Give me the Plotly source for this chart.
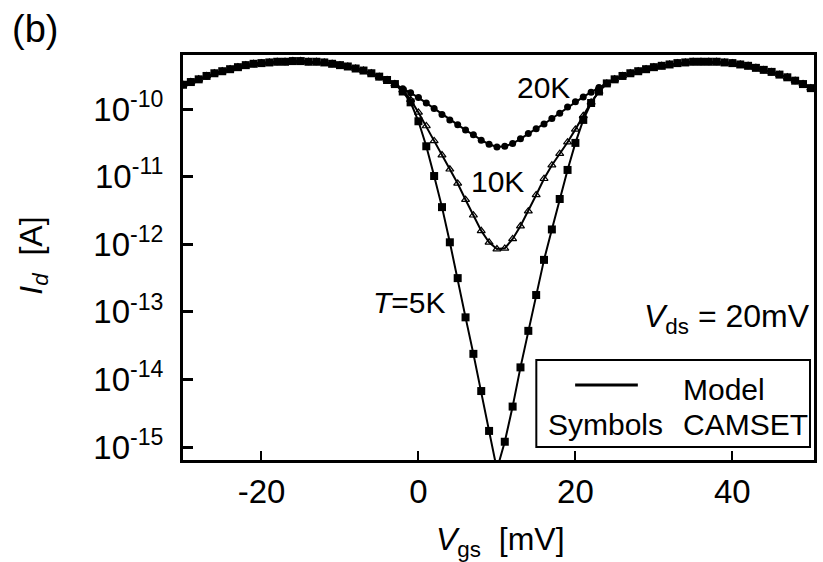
import plotly.graph_objects as go

# Gate voltage grid [mV]
vgs_mv = [-30, -29, -28, -27, -26, -25, -24, -23, -22, -21, -20, -19, -18, -17, -16,
          -15, -14, -13, -12, -11, -10, -9, -8, -7, -6, -5, -4, -3, -2, -1,
          0, 1, 2, 3, 4, 5, 6, 7, 8, 9, 10, 11, 12, 13, 14, 15, 16, 17, 18, 19,
          20, 21, 22, 23, 24, 25, 26, 27, 28, 29, 30, 31, 32, 33, 34, 35, 36, 37,
          38, 39, 40, 41, 42, 43, 44, 45, 46, 47, 48, 49, 50]

# log10(Id [A])
common_left = [-9.64, -9.60, -9.56, -9.51, -9.47, -9.44, -9.41, -9.38, -9.35, -9.33,
               -9.32, -9.31, -9.30, -9.30, -9.29, -9.29, -9.30, -9.30, -9.31, -9.33,
               -9.35, -9.37, -9.40, -9.43, -9.47, -9.52, -9.57, -9.63]          # -30..-3
common_right = [-9.62, -9.56, -9.51, -9.47, -9.44, -9.41, -9.38, -9.36, -9.34, -9.32,
                -9.31, -9.30, -9.30, -9.30, -9.30, -9.31, -9.32, -9.34, -9.36, -9.39,
                -9.42, -9.45, -9.49, -9.53, -9.58, -9.63, -9.69]                # 24..50

mid_20k = [-9.70, -9.76, -9.83, -9.91, -9.99, -10.08, -10.16, -10.23, -10.31, -10.38,
           -10.46, -10.52, -10.56, -10.55, -10.51, -10.44, -10.36, -10.29, -10.22,
           -10.14, -10.06, -9.97, -9.89, -9.82, -9.75, -9.68]                   # -2..23
mid_10k = [-9.72, -9.86, -10.05, -10.25, -10.47, -10.68, -10.89, -11.10, -11.34, -11.57,
           -11.80, -11.97, -12.07, -12.06, -11.92, -11.73, -11.51, -11.27, -11.03,
           -10.83, -10.66, -10.49, -10.30, -10.10, -9.90, -9.74]
mid_5k = [-9.74, -9.90, -10.18, -10.55, -10.99, -11.45, -11.97, -12.50, -13.08, -13.62,
          -14.17, -14.76, -15.33, -14.92, -14.40, -13.82, -13.28, -12.75, -12.23,
          -11.78, -11.33, -10.90, -10.50, -10.16, -9.91, -9.74]

log_id_20k = common_left + mid_20k + common_right
log_id_10k = common_left + mid_10k + common_right
log_id_5k = common_left + mid_5k + common_right

id_20k = [10 ** v for v in log_id_20k]
id_10k = [10 ** v for v in log_id_10k]
id_5k = [10 ** v for v in log_id_5k]

y_tick_vals = [1e-10, 1e-11, 1e-12, 1e-13, 1e-14, 1e-15]
y_tick_text = ["10<sup>-10</sup>", "10<sup>-11</sup>", "10<sup>-12</sup>",
               "10<sup>-13</sup>", "10<sup>-14</sup>", "10<sup>-15</sup>"]
x_tick_vals = [-20, 0, 20, 40]
x_tick_text = ["-20", "0", "20", "40"]

FONT = "Liberation Sans, Arial, sans-serif"
FS = 33

fig = go.Figure()
fig.add_trace(go.Scatter(x=vgs_mv, y=id_20k, mode="lines+markers",
                         line=dict(color="black", width=2),
                         marker=dict(symbol="circle", size=7, color="black")))
fig.add_trace(go.Scatter(x=vgs_mv, y=id_10k, mode="lines+markers",
                         line=dict(color="black", width=2),
                         marker=dict(symbol="triangle-up-open", size=7, color="black",
                                     line=dict(width=1.2, color="black"))))
fig.add_trace(go.Scatter(x=vgs_mv, y=id_5k, mode="lines+markers",
                         line=dict(color="black", width=2),
                         marker=dict(symbol="square", size=8, color="black")))

fig.update_xaxes(range=[-30, 50.4], tickvals=x_tick_vals, ticktext=x_tick_text,
                 ticks="inside", ticklen=9, tickwidth=2, tickcolor="black",
                 showline=True, linewidth=3, linecolor="black", mirror=True,
                 showgrid=False, zeroline=False,
                 tickfont=dict(family=FONT, size=FS, color="black"))
fig.update_yaxes(type="log", range=[-15.19, -9.2], tickvals=y_tick_vals,
                 ticktext=y_tick_text, ticks="inside", ticklen=10, tickwidth=3,
                 tickcolor="black", showline=True, linewidth=3, linecolor="black",
                 mirror=True, showgrid=False, zeroline=False, ticklabelstandoff=10,
                 tickfont=dict(family=FONT, size=FS, color="black"))

def px_x(p):
    return (p - 183) / 634

def px_y(p):
    return (460 - p) / 405

ann = [
    dict(text="(b)", x=px_x(34), y=px_y(29), size=38),
    dict(text="<i>I</i><sub><i>d</i></sub>  [A]", x=px_x(32), y=px_y(256), size=32, angle=-90),
    dict(text="<i>V</i><sub>gs</sub>  [mV]", x=px_x(502), y=px_y(541), size=32),
    dict(text="20K", x=px_x(545), y=px_y(87), size=30),
    dict(text="10K", x=px_x(499), y=px_y(181), size=30),
    dict(text="<i>T</i>=5K", x=px_x(411), y=px_y(302), size=30),
    dict(text="Model", x=px_x(727), y=px_y(389), size=30),
    dict(text="Symbols", x=px_x(608), y=px_y(424), size=30),
    dict(text="CAMSET", x=px_x(748), y=px_y(424), size=30),
]
for a in ann:
    fig.add_annotation(text=a["text"], x=a["x"], y=a["y"], xref="paper", yref="paper",
                       showarrow=False, textangle=a.get("angle", 0),
                       xanchor="center", yanchor="middle",
                       font=dict(family=FONT, size=a["size"], color="black"))
fig.add_annotation(text="<i>V</i><sub>ds</sub> = 20mV", x=px_x(815), y=px_y(318),
                   xref="paper", yref="paper", showarrow=False, xanchor="right",
                   yanchor="middle", font=dict(family=FONT, size=32, color="black"))

fig.add_shape(type="rect", xref="paper", yref="paper",
              x0=px_x(538), x1=px_x(813), y0=px_y(447), y1=px_y(360),
              line=dict(color="black", width=2), fillcolor="rgba(0,0,0,0)")
fig.add_shape(type="line", xref="paper", yref="paper",
              x0=px_x(577), x1=px_x(640), y0=px_y(385), y1=px_y(385),
              line=dict(color="black", width=3))

fig.update_layout(width=823, height=562, showlegend=False,
                  margin=dict(l=183, r=6, t=55, b=102),
                  plot_bgcolor="white", paper_bgcolor="white",
                  font=dict(family=FONT, size=FS, color="black"))

fig.write_html("out.html")
